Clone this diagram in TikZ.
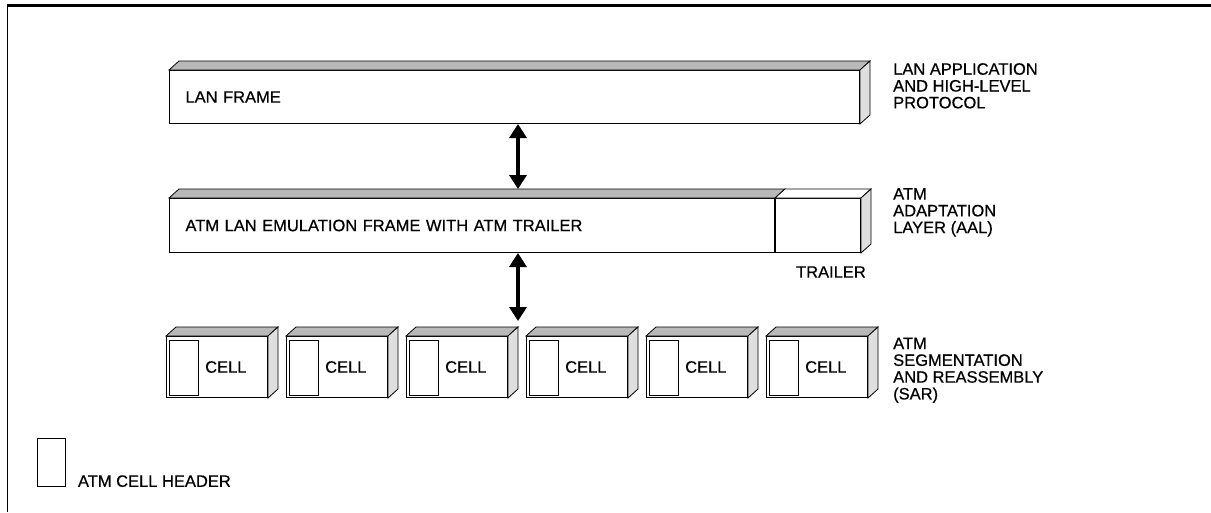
\documentclass[tikz,border=0pt]{standalone}
\usepackage{fontspec}
\setmainfont[FakeBold=0.6]{Liberation Sans}
\usetikzlibrary{arrows.meta, positioning}

\begin{document}
\begin{tikzpicture}[
  x=1pt, y=-1pt,
  node distance=75pt and 18pt,
  layerbox/.style={draw, fill=white, line width=1pt, align=left, inner xsep=16pt, inner ysep=0pt, minimum height=53pt},
  cellbox/.style={draw, fill=white, line width=1pt, minimum width=101pt, minimum height=61pt, inner sep=0pt},
  topface/.style={draw, line width=0.8pt, fill=gray!55},
  sideface/.style={draw, line width=0.8pt, fill=gray!25},
  sidelabel/.style={align=left, inner sep=0pt, anchor=north west},
  arr/.style={{Triangle[width=17pt,length=14pt]}-{Triangle[width=17pt,length=14pt]}, line width=4pt},
  font=\fontsize{16.5}{16.8}\selectfont
]
\useasboundingbox (0,0) rectangle (1211,512);
\draw[line width=3.5pt] (6.6,5.5) -- (1211,5.5);
\draw[line width=0.8pt] (7,4) -- (7,512);

% the three layers
\node[layerbox, text width=658pt, anchor=north west] (lan) at (169,70) {LAN FRAME};
\node[layerbox, text width=573pt, minimum height=54pt, anchor=north west] (mid) at (169,198) {ATM LAN EMULATION FRAME WITH ATM TRAILER};
\node[layerbox, right=0pt of mid, minimum width=85pt, minimum height=54pt, inner xsep=0pt] (trailer) {};
\node[cellbox, anchor=north west] (c1) at (166,336) {};
\foreach \i [evaluate=\i as \j using int(\i-1)] in {2,...,6}
  \node[cellbox, right=of c\j] (c\i) {};

% 3d faces
\foreach \n in {lan,c1,c2,c3,c4,c5,c6} {
  \draw[topface] (\n.north west) -- ++(10pt,9pt) -- ([shift={(10pt,9pt)}]\n.north east) -- (\n.north east) -- cycle;
  \draw[sideface] (\n.north east) -- ++(10pt,9pt) -- ([shift={(10pt,9pt)}]\n.south east) -- (\n.south east) -- cycle;
}
\draw[topface] (mid.north west) -- ++(10pt,9pt) -- ([shift={(10pt,9pt)}]mid.north east) -- (mid.north east) -- cycle;
\draw[topface, fill=white] (trailer.north west) -- ++(10pt,9pt) -- ([shift={(10pt,9pt)}]trailer.north east) -- (trailer.north east) -- cycle;
\draw[sideface] (trailer.north east) -- ++(10pt,9pt) -- ([shift={(10pt,9pt)}]trailer.south east) -- (trailer.south east) -- cycle;

% cell headers
\foreach \i in {1,...,6} {
  \draw[line width=0.8pt] ([shift={(3pt,-4pt)}]c\i.north west) rectangle ([shift={(32pt,3pt)}]c\i.south west);
  \node[anchor=west, inner sep=0pt] (t\i) at ([xshift=39pt]c\i.west) {CELL};
}

\node[inner sep=0pt, anchor=east] (trlbl) at (866,272) {TRAILER};

\node[sidelabel] (lanlbl) at (893,63) {LAN APPLICATION\\AND HIGH-LEVEL\\PROTOCOL};
\node[sidelabel] (aallbl) at (893,188) {ATM\\ADAPTATION\\LAYER (AAL)};
\node[sidelabel] (sarlbl) at (893,337.5) {ATM\\SEGMENTATION\\AND REASSEMBLY\\(SAR)};

\coordinate (axis) at (518,0);
\draw[arr] (lan.south -| axis) -- ([yshift=9pt]mid.north -| axis);
\draw[arr] (mid.south -| axis) -- ([yshift=15pt]c4.north -| axis);

% legend
\node[draw, line width=0.8pt, minimum width=28pt, minimum height=48pt, inner sep=0pt, anchor=north west] (hdrkey) at (37,438) {};
\node[inner sep=0pt, anchor=base west] (hdrtxt) at ([xshift=12pt]hdrkey.south east) {ATM CELL HEADER};
\end{tikzpicture}
\end{document}
